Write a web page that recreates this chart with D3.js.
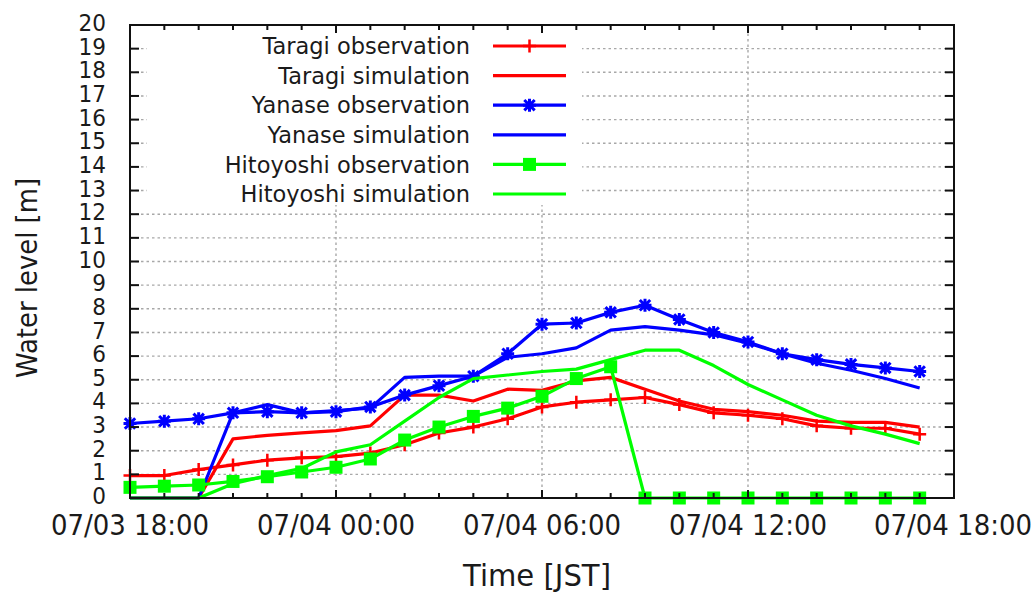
<!DOCTYPE html>
<html>
<head>
<meta charset="utf-8">
<script src="https://cdn.jsdelivr.net/npm/d3@7"></script>
<style>
  html, body { margin: 0; padding: 0; background: #fff; }
  svg { display: block; }
  text { font-family: "DejaVu Sans", Verdana, sans-serif; fill: #1a1a1a; }
</style>
</head>
<body>
<svg id="chart" width="1035" height="592"></svg>
<script>
// Hourly water levels [m], 07/03 18:00 – 07/04 17:00 (JST)
const times = [
  "07/03 18:00", "07/03 19:00", "07/03 20:00", "07/03 21:00", "07/03 22:00", "07/03 23:00",
  "07/04 00:00", "07/04 01:00", "07/04 02:00", "07/04 03:00", "07/04 04:00", "07/04 05:00",
  "07/04 06:00", "07/04 07:00", "07/04 08:00", "07/04 09:00", "07/04 10:00", "07/04 11:00",
  "07/04 12:00", "07/04 13:00", "07/04 14:00", "07/04 15:00", "07/04 16:00", "07/04 17:00"
];

const taragiObs = [0.95, 0.95, 1.2, 1.4, 1.6, 1.7, 1.75, 1.9, 2.25, 2.75, 3.0, 3.35,
                   3.85, 4.05, 4.15, 4.25, 3.95, 3.6, 3.5, 3.35, 3.05, 2.95, 2.95, 2.7];
const taragiSim = [0, 0, 0, 2.5, 2.65, 2.75, 2.85, 3.05, 4.35, 4.35, 4.1, 4.6,
                   4.55, 4.95, 5.1, 4.6, 4.1, 3.75, 3.65, 3.5, 3.25, 3.2, 3.2, 3.0];
const yanaseObs = [3.15, 3.25, 3.35, 3.6, 3.65, 3.6, 3.65, 3.85, 4.35, 4.75, 5.15, 6.1,
                   7.35, 7.4, 7.85, 8.15, 7.55, 7.0, 6.6, 6.1, 5.85, 5.65, 5.5, 5.35];
const yanaseSim = [0, 0, 0, 3.6, 3.95, 3.6, 3.7, 3.8, 5.1, 5.15, 5.15, 5.95,
                   6.1, 6.35, 7.1, 7.25, 7.1, 6.9, 6.55, 6.1, 5.7, 5.4, 5.05, 4.65];
const hitoyoshiObs = [0.45, 0.5, 0.55, 0.7, 0.9, 1.1, 1.3, 1.65, 2.45, 3.0, 3.45, 3.8,
                      4.3, 5.05, 5.55, 0, 0, 0, 0, 0, 0, 0, 0, 0];
const hitoyoshiSim = [0, 0, 0, 0.6, 0.95, 1.25, 1.95, 2.25, 3.25, 4.25, 5.05, 5.2,
                      5.35, 5.45, 5.85, 6.25, 6.25, 5.6, 4.8, 4.15, 3.5, 3.05, 2.7, 2.3];

const xRange = ["07/03 18:00", "07/04 18:00"];
const xTickLabels = ["07/03 18:00", "07/04 00:00", "07/04 06:00", "07/04 12:00", "07/04 18:00"];
const yTicks = [0, 1, 2, 3, 4, 5, 6, 7, 8, 9, 10, 11, 12, 13, 14, 15, 16, 17, 18, 19, 20];

const seriesNames = [
  "Taragi observation", "Taragi simulation",
  "Yanase observation", "Yanase simulation",
  "Hitoyoshi observation", "Hitoyoshi simulation"
];
const seriesValues = [taragiObs, taragiSim, yanaseObs, yanaseSim, hitoyoshiObs, hitoyoshiSim];
const seriesColors = ["#ff0000", "#ff0000", "#0000ff", "#0000ff", "#00ff00", "#00ff00"];
const seriesMarkers = ["plus", null, "star", null, "square", null];

const parse = d3.timeParse("%m/%d %H:%M");
const fmt = d3.timeFormat("%m/%d %H:%M");

const W = 1035, H = 592;
const m = { left: 130, right: 1035 - 954, top: 25, bottom: 592 - 498 };
const svg = d3.select("#chart");

const x = d3.scaleTime()
  .domain(xRange.map(parse))
  .range([m.left, W - m.right]);
const y = d3.scaleLinear()
  .domain([0, 20])
  .range([H - m.bottom, m.top]);

const x0 = m.left, x1 = W - m.right, y0 = H - m.bottom, y1 = m.top;

// grid
const grid = svg.append("g")
  .attr("stroke", "#a8a8a8")
  .attr("stroke-width", 1.4)
  .attr("stroke-dasharray", "2.5,3");
grid.selectAll("line.h").data(yTicks.slice(1, -1)).join("line")
  .attr("x1", x0).attr("x2", x1)
  .attr("y1", d => y(d)).attr("y2", d => y(d));
grid.selectAll("line.v").data(xTickLabels.slice(1, -1).map(parse)).join("line")
  .attr("x1", d => x(d)).attr("x2", d => x(d))
  .attr("y1", y0).attr("y2", y1);

// key background
const keyBox = { left: 147, right: 582, top: 29, bottom: 205 };
svg.append("rect")
  .attr("x", keyBox.left).attr("y", keyBox.top)
  .attr("width", keyBox.right - keyBox.left)
  .attr("height", keyBox.bottom - keyBox.top)
  .attr("fill", "#fff");

// marker shapes
function markerPath(type, s) {
  if (type === "plus") return `M${-s},0H${s}M0,${-s}V${s}`;
  if (type === "star") {
    const k = s * 0.8;
    return `M${-s},0H${s}M0,${-s}V${s}M${-k},${-k}L${k},${k}M${-k},${k}L${k},${-k}`;
  }
  return null;
}

const plot = svg.append("g");
const line = d3.line()
  .x((d, i) => x(parse(times[i])))
  .y(d => y(d));

seriesValues.forEach((vals, si) => {
  const g = plot.append("g");
  g.append("path")
    .datum(vals)
    .attr("d", line)
    .attr("fill", "none")
    .attr("stroke", seriesColors[si])
    .attr("stroke-width", 3.2)
    .attr("stroke-linejoin", "round");
  const mk = seriesMarkers[si];
  if (mk === "square") {
    g.selectAll("rect").data(vals).join("rect")
      .attr("x", (d, i) => x(parse(times[i])) - 6.5)
      .attr("y", d => y(d) - 6.5)
      .attr("width", 13).attr("height", 13)
      .attr("fill", seriesColors[si]);
  } else if (mk) {
    g.selectAll("path.mk").data(vals).join("path")
      .attr("class", "mk")
      .attr("transform", (d, i) => `translate(${x(parse(times[i]))},${y(d)})`)
      .attr("d", markerPath(mk, 6.5))
      .attr("stroke", seriesColors[si])
      .attr("stroke-width", mk === "star" ? 3 : 2.5)
      .attr("fill", "none");
  }
});

// axes frame and ticks
const axes = svg.append("g").attr("stroke", "#111").attr("stroke-width", 2);
axes.append("rect")
  .attr("x", x0).attr("y", y1)
  .attr("width", x1 - x0).attr("height", y0 - y1)
  .attr("fill", "none");

const hourTicks = x.ticks(d3.timeHour.every(1));
const majorSet = new Set(xTickLabels.map(s => +parse(s)));
hourTicks.forEach(t => {
  const len = majorSet.has(+t) ? 8 : 5;
  const px = x(t);
  axes.append("line").attr("x1", px).attr("x2", px).attr("y1", y0).attr("y2", y0 - len);
  axes.append("line").attr("x1", px).attr("x2", px).attr("y1", y1).attr("y2", y1 + len);
});
yTicks.forEach(v => {
  const py = y(v);
  axes.append("line").attr("x1", x0).attr("x2", x0 + 9).attr("y1", py).attr("y2", py);
  axes.append("line").attr("x1", x1).attr("x2", x1 - 9).attr("y1", py).attr("y2", py);
});

// tick labels
svg.append("g").selectAll("text").data(yTicks).join("text")
  .attr("x", 106)
  .attr("y", d => y(d) - 2)
  .attr("dy", "0.36em")
  .attr("text-anchor", "end")
  .attr("font-size", 20)
  .attr("transform", d => `translate(106,${y(d) - 2}) scale(1.08,1.12) translate(-106,${-(y(d) - 2)})`)
  .text(d => d);

// time labels, stretched vertically; the last one is kept inside the page edge
svg.append("g").selectAll("text").data(xTickLabels.map(parse)).join("text")
  .each(function (d) {
    const cx = Math.min(x(d), W - 2 - 80);
    d3.select(this)
      .attr("x", cx)
      .attr("y", 535)
      .attr("transform", `translate(0,535) scale(1,1.12) translate(0,-535)`);
  })
  .attr("text-anchor", "middle")
  .attr("font-size", 26)
  .text(d => fmt(d));

// axis titles
svg.append("text")
  .attr("x", 537).attr("y", 586)
  .attr("text-anchor", "middle")
  .attr("font-size", 30)
  .attr("textLength", 148)
  .attr("lengthAdjust", "spacingAndGlyphs")
  .text("Time [JST]");
svg.append("text")
  .attr("transform", "translate(37,278) rotate(-90)")
  .attr("text-anchor", "middle")
  .attr("font-size", 28)
  .attr("textLength", 200)
  .attr("lengthAdjust", "spacingAndGlyphs")
  .text("Water level [m]");

// key
const key = svg.append("g");
seriesNames.forEach((name, i) => {
  const ky = 46 + i * 29.6;
  key.append("text")
    .attr("x", 470).attr("y", ky)
    .attr("dy", "0.36em")
    .attr("text-anchor", "end")
    .attr("font-size", 22.5)
    .text(name);
  key.append("line")
    .attr("x1", 493).attr("x2", 566)
    .attr("y1", ky).attr("y2", ky)
    .attr("stroke", seriesColors[i]).attr("stroke-width", 3.2);
  const mk = seriesMarkers[i];
  if (mk === "square") {
    key.append("rect")
      .attr("x", 529.5 - 6.5).attr("y", ky - 6.5)
      .attr("width", 13).attr("height", 13)
      .attr("fill", seriesColors[i]);
  } else if (mk) {
    key.append("path")
      .attr("transform", `translate(529.5,${ky})`)
      .attr("d", markerPath(mk, 6.5))
      .attr("stroke", seriesColors[i])
      .attr("stroke-width", mk === "star" ? 3 : 2.5)
      .attr("fill", "none");
  }
});
</script>
</body>
</html>
